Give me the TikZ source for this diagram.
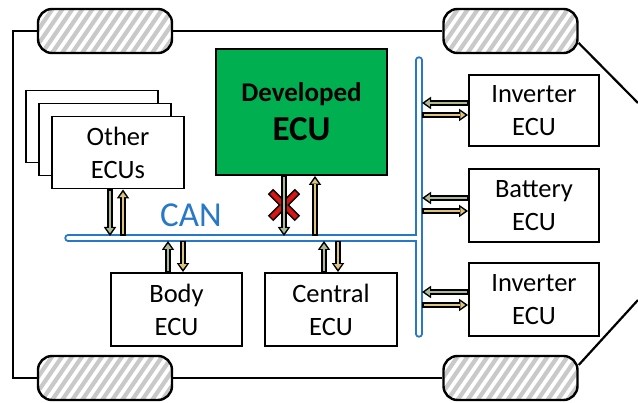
\documentclass[tikz,border=0pt]{standalone}
\usepackage{fontspec}
\setmainfont{Carlito}
\usetikzlibrary{arrows.meta,calc}
\definecolor{ecugreen}{RGB}{0,176,80}
\definecolor{canblue}{RGB}{40,120,200}
\definecolor{agreen}{RGB}{172,186,146}
\definecolor{atan}{RGB}{218,196,128}
\definecolor{xred}{RGB}{220,20,20}
\newcommand\flowarr[3]{%
  \draw[line width=6pt,black,-{Triangle[length=9pt,width=12.5pt,line width=0pt]}] #2 -- #3;
  \draw[line width=2.8pt,#1,shorten <=1.5pt,shorten >=2.8pt,-{Triangle[length=5pt,width=7.4pt,line width=0pt]}] #2 -- #3;}
\tikzset{
  ecu/.style={draw,line width=1.9pt,fill=white,minimum width=132pt,minimum height=72pt,
    inner sep=0pt,align=center,font=\fontsize{26.5}{33}\selectfont},
  wheel/.style={draw,line width=2.4pt,rounded corners=14pt,minimum width=134pt,minimum height=44pt,
    inner sep=0pt,fill=white,
    path picture={\foreach \k in {-70,-60,...,160}
      \draw[gray!42,line width=4.2pt] ([xshift=\k pt,yshift=-6pt]path picture bounding box.south west) -- ++(40,-58);}},
  carline/.style={line width=2.2pt,black}
}
\begin{document}
\begin{tikzpicture}[x=1pt,y=-1pt]
\useasboundingbox (0,0) rectangle (638,403);
\clip (0,0) rectangle (638,403);
% car outline
\coordinate (c1) at (13,31);
\coordinate (c2) at (13,378);
\coordinate (e1) at (638,103);
\coordinate (e2) at (638,300);
\node[wheel,draw=none,fill=none] (w1) at (105,31) {};
\node[wheel,draw=none,fill=none] (w2) at (510.5,31) {};
\node[wheel,draw=none,fill=none] (w3) at (105,378) {};
\node[wheel,draw=none,fill=none] (w4) at (510.5,378) {};
\draw[carline] (w1.west) -- (c1) -- (c2) -- (w3.west);
\draw[carline] (w1.east) -- (w2.west);
\draw[carline] (w3.east) -- (w4.west);
\draw[carline] ($(w2.east)+(0,12)$) -- (e1);
\draw[carline] ($(w4.east)+(0,-13)$) -- (e2);
\node[wheel] (wa) at (w1) {};
\node[wheel] (wb) at (w2) {};
\node[wheel] (wc) at (w3) {};
\node[wheel] (wd) at (w4) {};
% CAN bus
\coordinate (hl) at (68,238);
\coordinate (hr) at (419,238);
\coordinate (vt) at (419,60);
\coordinate (vb) at (419,334);
\draw[canblue,line width=2pt,double=white,double distance=3.4pt,line cap=round] (hl) -- (hr) (vt) -- (vb);
\node[canblue,anchor=base,font=\fontsize{35}{40}\selectfont,inner sep=0pt] (can) at (191,227) {CAN};
% ECUs
\node[ecu] (ob) at (92,126.5) {};
\node[ecu] (om) at (105,139.5) {};
\node[ecu] (oth) at (118,152.5) {Other\\ECUs};
\node[ecu,fill=ecugreen,minimum width=171pt,minimum height=126pt] (dev) at (301.5,112)
  {\fontsize{27}{36}\selectfont\bfseries Developed\\[6pt]\fontsize{35}{36}\selectfont\bfseries ECU};
\node[ecu,minimum width=131pt,minimum height=73pt] (body) at (176.5,309.5) {Body\\ECU};
\node[ecu,minimum height=73pt] (cen) at (331,309.5) {Central\\ECU};
\node[ecu,minimum width=130pt,minimum height=71pt] (inv1) at (534,110.5) {Inverter\\ECU};
\node[ecu,minimum width=130pt,minimum height=73pt] (bat) at (534,205.5) {Battery\\ECU};
\node[ecu,minimum width=130pt,minimum height=73pt] (inv2) at (534,299.5) {Inverter\\ECU};
% red cross
\coordinate (xc) at (284,205);
\draw[line width=7.5pt,black] ($(xc)+(-13.5,-13.5)$) -- ($(xc)+(13.5,13.5)$) ($(xc)+(-13.5,13.5)$) -- ($(xc)+(13.5,-13.5)$);
\draw[line width=4.5pt,xred,shorten <=1.5pt,shorten >=1.5pt] ($(xc)+(-13.5,-13.5)$) -- ($(xc)+(13.5,13.5)$);
\draw[line width=4.5pt,xred,shorten <=1.5pt,shorten >=1.5pt] ($(xc)+(-13.5,13.5)$) -- ($(xc)+(13.5,-13.5)$);
% arrows
\flowarr{agreen}{(oth.south -| 110,0)}{(110,236)}
\flowarr{atan}{(123,236)}{(oth.south -| 123,0)}
\flowarr{agreen}{(body.north -| 168,0)}{(168,241)}
\flowarr{atan}{(183,241)}{(body.north -| 183,0)}
\flowarr{agreen}{(dev.south -| 284,0)}{(284,236)}
\flowarr{atan}{(315,236)}{(dev.south -| 315,0)}
\flowarr{agreen}{(cen.north -| 324,0)}{(324,241)}
\flowarr{atan}{(338,241)}{(cen.north -| 338,0)}
\flowarr{agreen}{(inv1.west |- 0,103)}{(422,103)}
\flowarr{atan}{(422,115)}{(inv1.west |- 0,115)}
\flowarr{agreen}{(bat.west |- 0,198)}{(422,198)}
\flowarr{atan}{(422,211)}{(bat.west |- 0,211)}
\flowarr{agreen}{(inv2.west |- 0,292)}{(422,292)}
\flowarr{atan}{(422,305)}{(inv2.west |- 0,305)}
\end{tikzpicture}
\end{document}
